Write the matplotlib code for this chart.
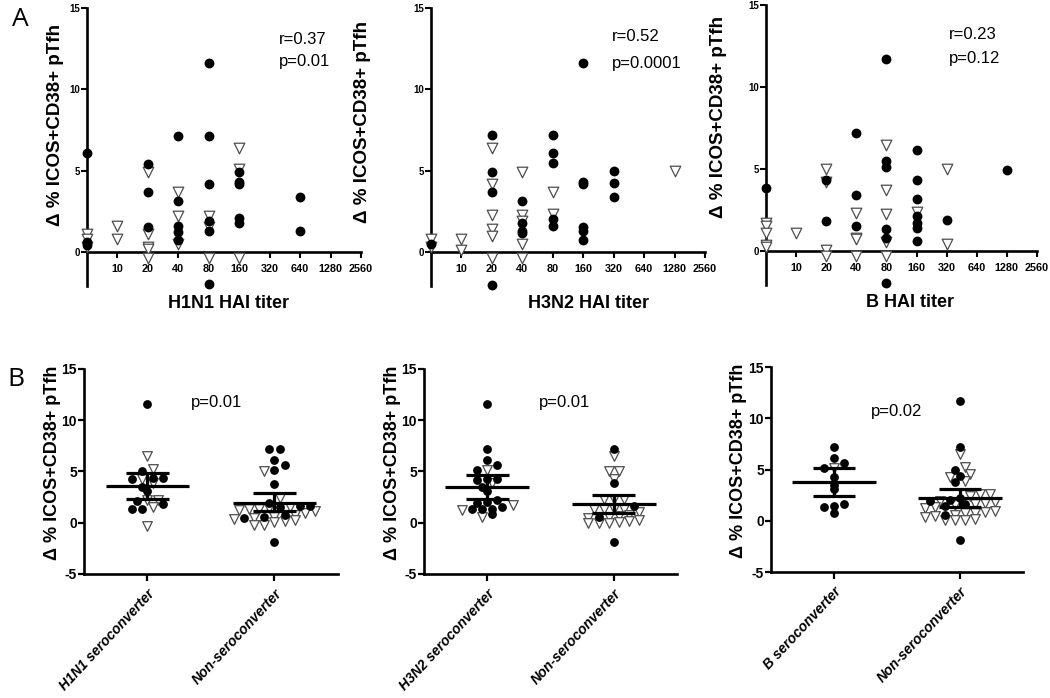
import numpy as np
import matplotlib
matplotlib.use('Agg')
import matplotlib.pyplot as plt
from matplotlib.ticker import NullLocator

plt.rcParams['font.family'] = ['Liberation Sans', 'DejaVu Sans']
plt.rcParams['axes.unicode_minus'] = False

# ---------------- panel A: HAI titer vs delta % ICOS+CD38+ pTfh ----------------
titer_ticks = [10, 20, 40, 80, 160, 320, 640, 1280, 2560]

h1n1_dot_titer = [5, 5, 5, 20, 20, 20, 40, 40, 40, 40, 40, 80, 80, 80, 80, 80, 80,
                  160, 160, 160, 160, 160, 640, 640]
h1n1_dot_val = [6.1, 0.6, 0.4, 5.4, 3.7, 1.5, 7.1, 3.1, 1.6, 1.25, 0.75, 11.6, 7.1, 4.2,
                1.9, 1.3, -2.0, 4.9, 4.3, 4.2, 2.1, 1.8, 3.4, 1.3]
h1n1_tri_titer = [5, 5, 5, 10, 10, 20, 20, 20, 20, 20, 40, 40, 40, 80, 80, 80, 160, 160, 160]
h1n1_tri_val = [1.1, 0.8, 0.3, 1.6, 0.8, 4.9, 1.1, 0.3, 0.15, -0.35, 3.7, 2.2, 0.5,
                2.2, 1.5, -0.35, 6.4, 5.1, -0.35]

h3n2_dot_titer = [5, 20, 20, 20, 20, 40, 40, 40, 40, 80, 80, 80, 80, 80,
                  160, 160, 160, 160, 160, 160, 320, 320, 320]
h3n2_dot_val = [0.5, 7.2, 4.9, 3.7, -2.05, 3.1, 1.8, 1.3, 1.15, 7.2, 6.1, 5.45, 2.0, 1.6,
                11.6, 4.3, 4.2, 1.5, 1.3, 0.7, 5.0, 4.25, 3.4]
h3n2_tri_titer = [5, 5, 10, 10, 20, 20, 20, 20, 20, 20, 40, 40, 40, 40, 40, 80, 80, 1280]
h3n2_tri_val = [0.8, 0.3, 0.8, 0.1, 6.4, 4.2, 2.25, 1.4, 1.0, -0.35, 4.9, 2.25, 1.9, 0.5,
                -0.35, 3.65, 2.3, 5.0]

b_dot_titer = [5, 20, 20, 40, 40, 40, 80, 80, 80, 80, 80, 80,
               160, 160, 160, 160, 160, 160, 160, 320, 1280]
b_dot_val = [3.8, 4.3, 1.8, 7.2, 3.4, 1.5, 11.7, 5.5, 5.1, 1.3, 0.75, -2.0,
             6.15, 4.3, 3.15, 2.1, 1.7, 1.4, 0.6, 1.85, 4.9]
b_tri_titer = [5, 5, 5, 5, 5, 10, 20, 20, 20, 20, 40, 40, 40, 40, 80, 80, 80, 80, 80,
               160, 320, 320]
b_tri_val = [1.7, 1.5, 1.1, 0.35, 0.25, 1.1, 5.0, 4.2, 0.05, -0.35, 2.3, 0.8, 0.7, -0.35,
             6.45, 3.7, 2.25, 0.5, -0.35, 2.35, 5.0, 0.4]

# ---------------- panel B: seroconverter vs non-seroconverter ----------------
h1n1_sc_dot = [11.6, 5.0, 4.4, 4.4, 4.3, 3.45, 3.1, 2.1, 1.85, 1.35, 1.35]
h1n1_sc_tri = [6.5, 5.2, 4.3, 3.9, 2.25, 2.25, 1.5, -0.3]
h1n1_non_dot = [7.2, 7.2, 6.1, 5.6, 5.1, 3.8, 1.9, 1.6, 1.6, 1.5, 0.75, 0.6, 0.5, -1.9]
h1n1_non_tri = [5.0, 2.4, 1.5, 1.4, 1.3, 1.3, 1.2, 1.1, 0.9, 0.8, 0.6, 0.5, 0.4, 0.3,
                0.2, 0.1, -0.2, -0.2]
h1n1_mean = [3.6, 1.95]
h1n1_lo = [2.3, 1.1]
h1n1_hi = [4.85, 2.9]

h3n2_sc_dot = [11.6, 7.2, 6.1, 5.6, 5.1, 4.3, 4.3, 4.2, 3.5, 3.1, 2.2, 2.0, 1.9, 1.55,
               1.3, 1.3, 1.3, 0.85]
h3n2_sc_tri = [5.1, 3.9, 1.75, 1.25, 0.6]
h3n2_non_dot = [7.2, 3.9, 1.65, 0.6, -1.85]
h3n2_non_tri = [6.5, 5.0, 5.0, 4.3, 2.35, 2.35, 2.35, 1.3, 1.3, 1.3, 1.3, 1.0, 0.8, 0.7,
                0.6, 0.5, 0.3, 0.2, 0.1, 0.0, 0.0, 0.0]
h3n2_mean = [3.45, 1.8]
h3n2_lo = [2.3, 0.95]
h3n2_hi = [4.65, 2.75]

b_sc_dot = [7.2, 6.1, 5.6, 5.1, 4.3, 3.5, 3.1, 1.6, 1.4, 1.3, 0.8]
b_sc_tri = [5.1]
b_non_dot = [11.7, 7.2, 5.0, 4.4, 3.8, 2.2, 2.0, 1.9, 1.6, 1.4, 0.6, -1.9]
b_non_tri = [6.5, 5.2, 4.6, 4.3, 3.9, 2.6, 2.6, 2.4, 1.9, 1.8, 1.7, 1.6, 1.5, 1.3, 1.2,
             1.0, 0.9, 0.8, 0.8, 0.6, 0.5, 0.4, 0.2, 0.1, 0.1, 0.1]
b_mean = [3.75, 2.2]
b_lo = [2.4, 1.35]
b_hi = [5.1, 3.1]

TRI_EDGE = '#4d4d4d'
AX_LW = 1.9
YLABEL = 'Δ % ICOS+CD38+ pTfh'


def bold_ticks(ax):
    for lbl in ax.get_xticklabels() + ax.get_yticklabels():
        lbl.set_fontweight('bold')


def titer_panel(rect, dot_t, dot_v, tri_t, tri_v, xlabel, xlab_x, r_txt, p_txt, txt_x, r_y, p_y, ylab_x, ylab_y):
    ax = fig.add_axes(rect)
    ax.scatter(tri_t, tri_v, marker='v', s=58, facecolor='white', edgecolor=TRI_EDGE,
               linewidth=0.9, clip_on=False, zorder=3)
    ax.scatter(dot_t, dot_v, marker='o', s=50, color='black', linewidth=0,
               clip_on=False, zorder=4)
    ax.set_xscale('log', base=2)
    ax.set_xlim(5, 2560)
    ax.set_ylim(-2.1, 15)
    ax.spines['bottom'].set_position(('data', 0))
    ax.spines[['top', 'right']].set_visible(False)
    for s in ['left', 'bottom']:
        ax.spines[s].set_linewidth(AX_LW)
    ax.set_xticks(titer_ticks)
    ax.set_xticklabels([str(t) for t in titer_ticks])
    ax.xaxis.set_minor_locator(NullLocator())
    ax.set_yticks([0, 5, 10, 15])
    ax.tick_params(axis='x', labelsize=7.8, length=4, width=1.5, pad=5)
    ax.tick_params(axis='y', labelsize=7, length=4, width=1.5, pad=1)
    bold_ticks(ax)
    ax.set_ylabel(YLABEL, fontsize=13.5, fontweight='bold')
    ax.yaxis.set_label_coords(ylab_x, ylab_y)
    ax.text(xlab_x, -0.062, xlabel, transform=ax.transAxes, ha='center', va='center',
            fontsize=13, fontweight='bold')
    ax.text(txt_x, r_y, r_txt, transform=ax.transAxes, ha='left', va='center', fontsize=12)
    ax.text(txt_x, p_y, p_txt, transform=ax.transAxes, ha='left', va='center', fontsize=12)
    return ax


def swarm(center, vals, dx, row_h):
    # column-scatter layout: points in the same value row sit side by side
    vals = np.asarray(vals, dtype=float)
    rows = np.floor(vals / row_h + 0.5).astype(int)
    xs = np.zeros(len(vals))
    for r in np.unique(rows):
        idx = np.where(rows == r)[0]
        idx = idx[np.argsort(vals[idx], kind='stable')]
        n = len(idx)
        xs[idx] = center + (np.arange(n) - (n - 1) / 2) * dx
    return xs


def group_panel(rect, groups, means, los, his, labels, p_txt, p_x, p_y, ylab_x):
    ax = fig.add_axes(rect)
    for gi, (dots, tris) in enumerate(groups):
        vals = list(dots) + list(tris)
        xs = swarm(gi, vals, 0.08, 0.75)
        nd = len(dots)
        ax.scatter(xs[nd:], tris, marker='v', s=48, facecolor='white', edgecolor=TRI_EDGE,
                   linewidth=0.9, clip_on=False, zorder=3)
        ax.scatter(xs[:nd], dots, marker='o', s=40, color='black', linewidth=0,
                   clip_on=False, zorder=4)
    xpos = np.arange(len(means))
    ax.hlines(means, xpos - 0.33, xpos + 0.33, color='black', lw=2.3, zorder=5)
    ax.hlines(los, xpos - 0.17, xpos + 0.17, color='black', lw=2.3, zorder=5)
    ax.hlines(his, xpos - 0.17, xpos + 0.17, color='black', lw=2.3, zorder=5)
    ax.vlines(xpos, los, his, color='black', lw=2.3, zorder=5)
    ax.set_xlim(-0.5, 1.5)
    ax.set_ylim(-5, 15)
    ax.spines[['top', 'right']].set_visible(False)
    for s in ['left', 'bottom']:
        ax.spines[s].set_linewidth(AX_LW)
    ax.set_xticks(xpos)
    ax.set_xticklabels(labels, rotation=47, ha='right', va='top', rotation_mode='anchor',
                       fontsize=10, fontstyle='italic')
    ax.set_yticks([-5, 0, 5, 10, 15])
    ax.tick_params(axis='x', length=5, width=1.6, pad=4)
    ax.tick_params(axis='y', labelsize=10, length=4, width=1.6, pad=1)
    bold_ticks(ax)
    ax.set_ylabel(YLABEL, fontsize=13, fontweight='bold')
    ax.yaxis.set_label_coords(ylab_x, 0.54)
    ax.text(p_x, p_y, p_txt, ha='center', va='center', fontsize=12)
    return ax


fig = plt.figure(figsize=(10.5, 6.98), dpi=100)

titer_panel([0.0829, 0.5903, 0.2610, 0.3983], h1n1_dot_titer, h1n1_dot_val,
            h1n1_tri_titer, h1n1_tri_val, 'H1N1 HAI titer', 0.515,
            'r=0.37', 'p=0.01', 0.70, 0.885, 0.806, -0.084, 0.58)
titer_panel([0.4105, 0.5903, 0.2610, 0.3983], h3n2_dot_titer, h3n2_dot_val,
            h3n2_tri_titer, h3n2_tri_val, 'H3N2 HAI titer', 0.573,
            'r=0.52', 'p=0.0001', 0.66, 0.899, 0.802, -0.219, 0.59)
titer_panel([0.7295, 0.5917, 0.2581, 0.4011], b_dot_titer, b_dot_val,
            b_tri_titer, b_tri_val, 'B HAI titer', 0.533,
            'r=0.23', 'p=0.12', 0.674, 0.893, 0.81, -0.145, 0.60)

group_panel([0.0800, 0.1777, 0.2419, 0.2937],
            [(h1n1_sc_dot, h1n1_sc_tri), (h1n1_non_dot, h1n1_non_tri)],
            h1n1_mean, h1n1_lo, h1n1_hi, ['H1N1 seroconverter', 'Non-seroconverter'],
            'p=0.01', 0.54, 11.7, -0.09)
group_panel([0.4038, 0.1777, 0.2410, 0.2937],
            [(h3n2_sc_dot, h3n2_sc_tri), (h3n2_non_dot, h3n2_non_tri)],
            h3n2_mean, h3n2_lo, h3n2_hi, ['H3N2 seroconverter', 'Non-seroconverter'],
            'p=0.01', 0.61, 11.7, -0.09)
group_panel([0.7343, 0.1805, 0.2400, 0.2937],
            [(b_sc_dot, b_sc_tri), (b_non_dot, b_non_tri)],
            b_mean, b_lo, b_hi, ['B seroconverter', 'Non-seroconverter'],
            'p=0.02', 0.50, 10.7, -0.097)

fig.text(20 / 1050, 1 - 20 / 698, 'A', fontsize=19, family=['Open Sans', 'DejaVu Sans'],
         ha='center', va='center')
fig.text(16 / 1050, 1 - 380 / 698, 'B', fontsize=19, family=['Open Sans', 'DejaVu Sans'],
         ha='center', va='center')

fig.savefig('out.png', dpi=100)
